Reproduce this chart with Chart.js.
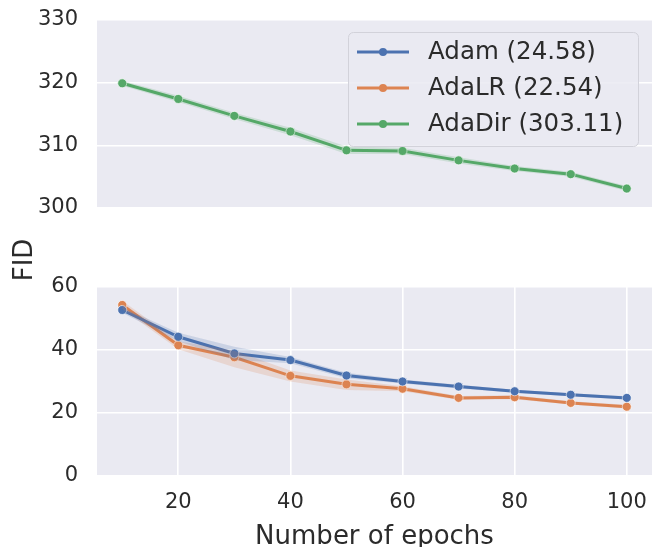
<!DOCTYPE html>
<html><head><meta charset="utf-8">
<script src="https://cdn.jsdelivr.net/npm/chart.js@4.4.0/dist/chart.umd.min.js"></script>
<style>
html,body{margin:0;padding:0;background:#fff;width:652px;height:547px;overflow:hidden;}
#wrap{position:relative;width:652px;height:547px;}
canvas{position:absolute;left:0;top:0;}
</style></head><body>
<div id="wrap">
<canvas id="top" width="652" height="230"></canvas>
<canvas id="bot" width="652" height="547"></canvas>
</div>
<script>
// ---- data ----
const epochs = [10, 20, 30, 40, 50, 60, 70, 80, 90, 100];
const adamFID  = [52.7, 44.2, 38.9, 36.8, 31.9, 30.0, 28.4, 26.9, 25.8, 24.8];
const adamLow  = [51.8, 42.8, 36.8, 35.8, 31.0, 29.4, 27.8, 26.4, 25.3, 24.3];
const adamHigh = [53.6, 45.5, 41.0, 37.8, 32.8, 30.6, 29.0, 27.4, 26.3, 25.3];
const adaLRFID  = [54.3, 41.5, 37.7, 31.8, 29.1, 27.7, 24.8, 25.0, 23.2, 22.0];
const adaLRLow  = [53.0, 40.2, 34.5, 30.0, 27.3, 26.9, 24.2, 24.4, 22.7, 21.4];
const adaLRHigh = [55.6, 42.8, 39.8, 33.5, 30.6, 28.5, 25.4, 25.6, 23.7, 22.6];
const adaDirFID  = [319.9, 317.4, 314.7, 312.2, 309.2, 309.1, 307.6, 306.3, 305.4, 303.1];
const adaDirLow  = [319.5, 316.9, 314.2, 311.6, 308.6, 308.6, 307.1, 305.9, 305.0, 302.7];
const adaDirHigh = [320.3, 317.9, 315.2, 312.8, 309.8, 309.6, 308.1, 306.7, 305.8, 303.5];
const legendLabels = ['Adam (24.58)', 'AdaLR (22.54)', 'AdaDir (303.11)'];
const xTicks = [20, 40, 60, 80, 100];
const yTicksTop = [300, 310, 320, 330];
const yTicksBottom = [0, 20, 40, 60];
const xLabel = 'Number of epochs';
const yLabel = 'FID';

// ---- style ----
const BLUE = '#4C72B0', ORANGE = '#DD8452', GREEN = '#55A868';
const FONT = "'DejaVu Sans', sans-serif";
const TXT = '#2b2b2b';

const pts = arr => epochs.map((x, i) => ({x, y: arr[i]}));
function rgba(hex, a){const n=parseInt(hex.slice(1),16);return `rgba(${n>>16},${(n>>8)&255},${n&255},${a})`;}
function band(low, high, color){
  return [
    {data: pts(high), borderWidth: 0, pointRadius: 0, fill: false, backgroundColor: 'transparent', borderColor: 'transparent'},
    {data: pts(low), borderWidth: 0, pointRadius: 0, fill: '-1', backgroundColor: rgba(color, 0.2), borderColor: 'transparent'}
  ];
}
function line(vals, color){
  return {data: pts(vals), borderColor: color, backgroundColor: color, borderWidth: 3, pointRadius: 4.5,
    pointBackgroundColor: color, pointBorderColor: 'rgba(255,255,255,0.85)', pointBorderWidth: 0.8, fill: false, tension: 0};
}

const bgPlugin = { id: 'bg', beforeDraw(chart){
  const {ctx, chartArea: a} = chart; ctx.save(); ctx.fillStyle = '#EAEAF2';
  ctx.fillRect(a.left, a.top, a.right - a.left, a.bottom - a.top); ctx.restore(); } };

const legendPlugin = { id: 'customLegend', afterDraw(chart){
  const ctx = chart.ctx; ctx.save();
  ctx.beginPath(); ctx.roundRect(348.5, 32.5, 290, 114, 5);
  ctx.fillStyle = 'rgba(234,234,242,0.85)'; ctx.fill();
  ctx.strokeStyle = '#d2d2da'; ctx.lineWidth = 1; ctx.stroke();
  const cols = [BLUE, ORANGE, GREEN];
  legendLabels.forEach((t, i) => {
    const y = 52 + i * 36;
    ctx.strokeStyle = cols[i]; ctx.lineWidth = 3;
    ctx.beginPath(); ctx.moveTo(357, y); ctx.lineTo(409, y); ctx.stroke();
    ctx.fillStyle = cols[i]; ctx.beginPath(); ctx.arc(383, y, 4, 0, Math.PI*2); ctx.fill();
    ctx.fillStyle = TXT; ctx.font = `24.5px ${FONT}`; ctx.textAlign = 'left'; ctx.textBaseline = 'middle';
    ctx.fillText(t, 428, y + 1);
  });
  ctx.restore(); } };

const yTitlePlugin = { id: 'ytitle', afterDraw(chart){
  const ctx = chart.ctx; ctx.save(); ctx.translate(25, 260); ctx.rotate(-Math.PI/2);
  ctx.fillStyle = TXT; ctx.font = `26px ${FONT}`; ctx.textAlign = 'center'; ctx.textBaseline = 'middle';
  ctx.fillText(yLabel, 0, 0); ctx.restore(); } };

const gridCfg = {color: '#ffffff', lineWidth: 1.6, drawTicks: false};
const tickFont = {family: FONT, size: 21};
const noPad = s => { s.paddingTop = 0; s.paddingBottom = 0; s.paddingLeft = 0; s.paddingRight = 0; };

// ---- top panel ----
new Chart(document.getElementById('top'), {
  type: 'line',
  data: {datasets: [...band(adaDirLow, adaDirHigh, GREEN), line(adaDirFID, GREEN)]},
  options: {
    responsive: false, animation: false, events: [],
    layout: {autoPadding: false, padding: {top: 20, bottom: 22, left: 0, right: 0}},
    plugins: {legend: {display: false}, tooltip: {enabled: false}},
    scales: {
      x: {type: 'linear', min: 5.5, max: 104.5, display: false, afterFit: noPad},
      y: {min: 300, max: 330, border: {display: false}, grid: gridCfg,
          afterBuildTicks: s => { s.ticks = yTicksTop.map(v => ({value: v})); },
          afterFit: s => { s.width = 97; noPad(s); },
          ticks: {font: tickFont, color: TXT, padding: 19}}
    }
  },
  plugins: [bgPlugin, legendPlugin]
});

// ---- bottom panel ----
new Chart(document.getElementById('bot'), {
  type: 'line',
  data: {datasets: [...band(adamLow, adamHigh, BLUE), ...band(adaLRLow, adaLRHigh, ORANGE),
                    line(adamFID, BLUE), line(adaLRFID, ORANGE)]},
  options: {
    responsive: false, animation: false, events: [],
    layout: {autoPadding: false, padding: {top: 287, bottom: 0, left: 0, right: 0}},
    plugins: {legend: {display: false}, tooltip: {enabled: false}},
    scales: {
      x: {type: 'linear', min: 5.5, max: 104.5, border: {display: false}, grid: gridCfg,
          afterBuildTicks: s => { s.ticks = xTicks.map(v => ({value: v})); },
          afterFit: s => { s.height = 71; noPad(s); },
          ticks: {font: tickFont, color: TXT, padding: 14, maxRotation: 0},
          title: {display: true, text: xLabel, color: TXT, font: {family: FONT, size: 26}, padding: {top: 0, bottom: -6}}},
      y: {min: 0, max: 60, border: {display: false}, grid: gridCfg,
          afterBuildTicks: s => { s.ticks = yTicksBottom.map(v => ({value: v})); },
          afterFit: s => { s.width = 97; noPad(s); },
          ticks: {font: tickFont, color: TXT, padding: 19}}
    }
  },
  plugins: [bgPlugin, yTitlePlugin]
});
</script>
</body></html>
